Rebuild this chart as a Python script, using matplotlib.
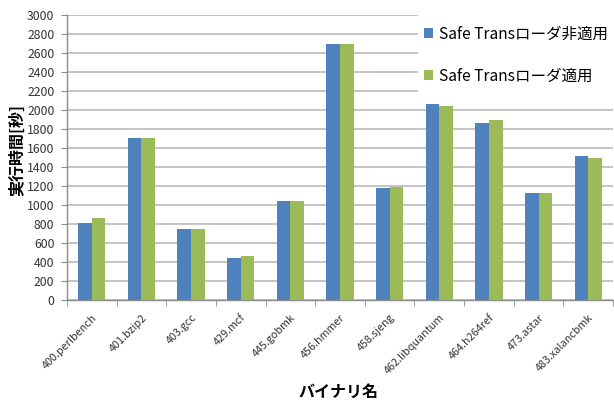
import matplotlib as mpl
import matplotlib.pyplot as plt
import numpy as np
from matplotlib.patches import Patch, Rectangle

BLUE = "#4F81BD"
GREEN = "#9BBB59"
GRID = "#C0C0C0"
AXIS = "#8C8C8C"

binaries = [
    "400.perlbench", "401.bzip2", "403.gcc", "429.mcf", "445.gobmk", "456.hmmer",
    "458.sjeng", "462.libquantum", "464.h264ref", "473.astar", "483.xalancbmk",
]
without_loader = [815, 1710, 750, 445, 1045, 2700, 1175, 2060, 1860, 1125, 1515]
with_loader = [865, 1710, 750, 460, 1045, 2700, 1190, 2045, 1895, 1125, 1498]
series_names = ["Safe Transローダ非適用", "Safe Transローダ適用"]

mpl.rcParams.update({
    "font.family": ["Noto Sans CJK JP", "DejaVu Sans"],
    "axes.linewidth": 1.0,
})

fig = plt.figure(figsize=(6.14, 4.03), dpi=100)
ax = fig.add_axes([67 / 614, 103 / 403, 546 / 614, 285 / 403])

x = np.arange(len(binaries))
width = 0.275
ax.bar(x - width / 2, without_loader, width, color=BLUE, zorder=3)
ax.bar(x + width / 2, with_loader, width, color=GREEN, zorder=3)

ax.set_xlim(-0.5, len(binaries) - 0.5)
ax.set_ylim(0, 3000)
ax.set_yticks(np.arange(0, 3001, 200))
ax.grid(axis="y", color=GRID, linewidth=1.3, zorder=0)
ax.set_axisbelow(True)

for side in ["top", "right"]:
    ax.spines[side].set_visible(False)
for side in ["left", "bottom"]:
    ax.spines[side].set_color(AXIS)

ax.set_xticks(x)
ax.set_xticklabels(binaries, rotation=45, ha="right", rotation_mode="anchor", fontsize=7.8, color="#333333")
ax.tick_params(axis="x", which="major", length=0, pad=9)
ax.set_xticks(np.arange(-0.5, len(binaries), 1), minor=True)
ax.tick_params(axis="x", which="minor", length=4, color=AXIS, direction="out")
ax.tick_params(axis="y", length=4, color=AXIS, labelsize=8.8, pad=5, labelcolor="#333333")

ax.set_ylabel("実行時間[秒]", fontsize=11.5, fontweight="bold")
ax.yaxis.set_label_coords(-0.077, 0.525)
ax.set_xlabel("バイナリ名", fontsize=11.5, fontweight="bold")
ax.xaxis.set_label_coords(0.498, -0.295)

# white legend area hiding the gridlines, like the original chart
fig.add_artist(Rectangle((418 / 614, 1 - 100 / 403), 196 / 614, 92 / 403,
                         transform=fig.transFigure, facecolor="white", edgecolor="none", zorder=2))

handles = [Patch(facecolor=BLUE, label=series_names[0]), Patch(facecolor=GREEN, label=series_names[1])]
leg = fig.legend(
    handles=handles,
    loc="upper left",
    bbox_to_anchor=(416 / 614, 1 - 18 / 403),
    frameon=False,
    fontsize=11.2,
    handlelength=0.6,
    handleheight=0.6,
    handletextpad=0.4,
    labelspacing=1.6,
    borderpad=0.5,
    borderaxespad=0,
)
leg.set_zorder(5)

fig.savefig("out.png", dpi=100)
